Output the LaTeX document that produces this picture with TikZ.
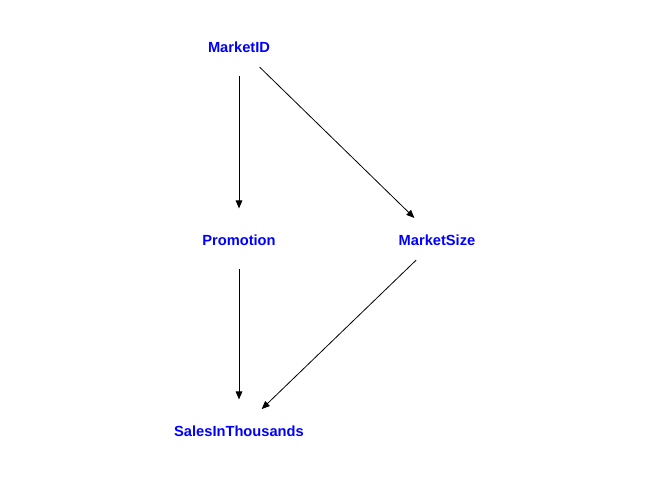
\documentclass[tikz,border=0pt]{standalone}
\usepackage{fontspec}
\setmainfont{Liberation Sans}
\usetikzlibrary{positioning, arrows.meta}
\definecolor{nodeblue}{RGB}{0,0,255}
\newcommand{\varlabel}[1]{\makebox[0pt]{#1}}

\begin{document}
\begin{tikzpicture}[
        x=0.75pt, y=-0.75pt,
        on grid,
        ->,
        >={Triangle[length=6pt, width=5pt]},
        every node/.style={font=\fontsize{11}{13}\selectfont\bfseries},
        var/.style={circle, minimum size=43pt, inner sep=0pt, text=nodeblue},
        link/.style={line width=0.6pt, shorten >=2pt}]
        \useasboundingbox (0,0) rectangle (672,480);
        % Nodes
        \node[var] (market_id) at (239,47) {\varlabel{MarketID}};
        \node[var, below=144.75pt of market_id] (promotion) {\varlabel{Promotion}};
        \node[var, right=148.5pt of promotion] (market_size) {\varlabel{MarketSize}};
        \node[var, below=143.25pt of promotion] (sales) {\varlabel{SalesInThousands}};
        % Edges
        \draw[link] (market_id) -- (promotion);
        \draw[link] (market_id) -- (market_size);
        \draw[link] (promotion) -- (sales);
        \draw[link] (market_size) -- (sales);
\end{tikzpicture}
\end{document}
